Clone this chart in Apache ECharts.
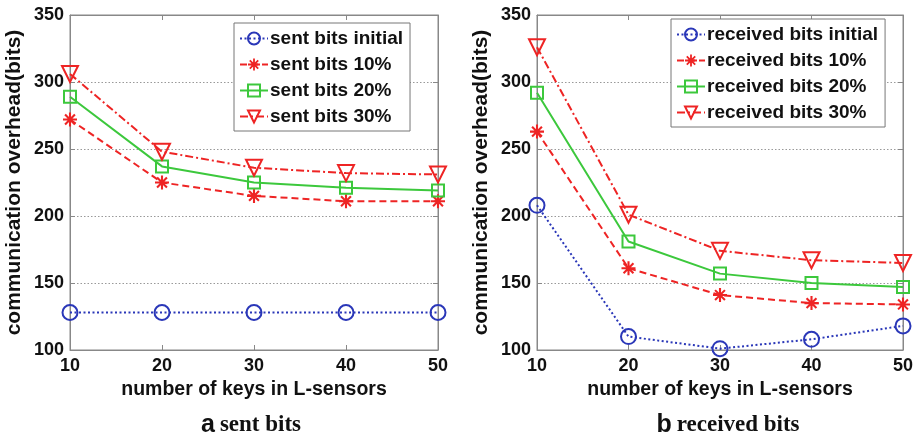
<!DOCTYPE html>
<html>
<head>
<meta charset="utf-8">
<script src="https://cdn.jsdelivr.net/npm/echarts@6/dist/echarts.min.js"></script>
<style>html,body{margin:0;padding:0;background:#fff}#c{width:921px;height:438px}</style>
</head>
<body>
<div id="c"></div>
<script>
var keys = [10, 20, 30, 40, 50];
var sentInitial = [128, 128, 128, 128, 128];
var sent10 = [272, 225, 215, 211, 211];
var sent20 = [289, 237, 225, 221, 219];
var sent30 = [306, 248, 236, 232, 231];
var recvInitial = [208, 110, 101, 108, 118];
var recv10 = [263, 161, 141, 135, 134];
var recv20 = [292, 181, 157, 150, 147];
var recv30 = [326, 201, 174, 167, 165];
var yTicks = [100, 150, 200, 250, 300, 350];
var sentNames = ['sent bits initial', 'sent bits 10%', 'sent bits 20%', 'sent bits 30%'];
var recvNames = ['received bits initial', 'received bits 10%', 'received bits 20%', 'received bits 30%'];

var BLUE = '#2a37b8', RED = '#ee2424', GREEN = '#3cc83c';
var STAR = 'path://M0,8.5 L20,8.5 L20,11.5 L0,11.5 Z M8.5,0 L11.5,0 L11.5,20 L8.5,20 Z M1.9,4 L4,1.9 L18.1,16 L16,18.1 Z M16,1.9 L18.1,4 L4,18.1 L1.9,16 Z';
var TRI = 'path://M0,0 L20,0 L10,17 Z';
var FONT = 'Liberation Sans';

function zip(v) { return keys.map(function (k, i) { return [k, v[i]]; }); }

function mkSeries(names, arrs, xi, yi) {
  var styles = [
    {color: BLUE, type: [2, 2.5], symbol: 'circle', size: 15},
    {color: RED, type: [7, 4], symbol: STAR, size: 14},
    {color: GREEN, type: 'solid', symbol: 'rect', size: 12},
    {color: RED, type: [8, 3, 2, 3], symbol: TRI, size: 16}
  ];
  return arrs.map(function (a, i) {
    var s = styles[i];
    var filled = (i === 1);
    return {
      name: names[i], type: 'line', xAxisIndex: xi, yAxisIndex: yi,
      data: zip(a), symbol: s.symbol, symbolSize: s.size,
      lineStyle: {color: s.color, width: 2, type: s.type},
      itemStyle: filled ? {color: s.color, borderWidth: 0} :
        {color: 'rgba(255,255,255,0)', borderColor: s.color, borderWidth: 2},
      z: 2 + i, animation: false
    };
  });
}

function xAx(gi, pos) {
  var bottom = pos === 'bottom';
  return {
    type: 'value', gridIndex: gi, position: pos, min: 10, max: 50, interval: 10,
    name: bottom ? 'number of keys in L-sensors' : '', nameLocation: 'middle', nameGap: 30,
    nameTextStyle: {fontFamily: FONT, fontWeight: 'bold', fontSize: 19.5, color: '#111'},
    axisLine: {show: true, lineStyle: {color: '#888', width: 1}},
    axisTick: {show: true, inside: true, length: 5, lineStyle: {color: '#888'}},
    axisLabel: {show: bottom, fontFamily: FONT, fontWeight: 'bold', fontSize: 18, color: '#111', margin: 7},
    splitLine: {show: false}
  };
}
function yAx(gi, pos) {
  var left = pos === 'left';
  return {
    type: 'value', gridIndex: gi, position: pos, min: 100, max: 350, interval: 50,
    name: left ? 'communication overhead(bits)' : '', nameLocation: 'middle', nameGap: 45,
    nameTextStyle: {fontFamily: FONT, fontWeight: 'bold', fontSize: 21, color: '#111'},
    axisLine: {show: true, lineStyle: {color: '#888', width: 1}},
    axisTick: {show: true, inside: true, length: 5, lineStyle: {color: '#888'}},
    axisLabel: {show: left, fontFamily: FONT, fontWeight: 'bold', fontSize: 18, color: '#111', margin: 6,
      formatter: function (v) { return yTicks.indexOf(v) >= 0 ? String(v) : ''; }},
    splitLine: {show: left, lineStyle: {color: '#999', type: [1.5, 2], width: 1}}
  };
}

function legend(names, left, top) {
  return {
    data: names, orient: 'vertical', left: left, top: top,
    backgroundColor: '#fff', borderColor: '#777', borderWidth: 1, borderRadius: 0,
    padding: [6, 7, 5, 5], itemGap: 7, itemWidth: 28, itemHeight: 15,
    textStyle: {fontFamily: FONT, fontWeight: 'bold', fontSize: 19, color: '#111', padding: [0, 0, 0, -3]},
    selectedMode: false
  };
}

var capRich = {
  a: {fontFamily: FONT, fontWeight: 'bold', fontSize: 25, color: '#111'},
  b: {fontFamily: 'Liberation Serif', fontSize: 23, color: '#111'}
};

var chart = echarts.init(document.getElementById('c'));
chart.setOption({
  backgroundColor: '#fff',
  animation: false,
  grid: [
    {left: 70, right: 483, top: 15, bottom: 88, show: true, borderColor: '#888', borderWidth: 1},
    {left: 537, right: 18, top: 15, bottom: 88, show: true, borderColor: '#888', borderWidth: 1}
  ],
  xAxis: [xAx(0, 'bottom'), xAx(0, 'top'), xAx(1, 'bottom'), xAx(1, 'top')],
  yAxis: [yAx(0, 'left'), yAx(0, 'right'), yAx(1, 'left'), yAx(1, 'right')],
  legend: [legend(sentNames, 234, 23), legend(recvNames, 671, 19)],
  title: [
    {text: '{a|a} {b|sent bits}', left: 246, top: 408, textAlign: 'center', textStyle: {rich: capRich}},
    {text: '{a|b} {b|received bits}', left: 723, top: 408, textAlign: 'center', textStyle: {rich: capRich}}
  ],
  series: mkSeries(sentNames, [sentInitial, sent10, sent20, sent30], 0, 0)
    .concat(mkSeries(recvNames, [recvInitial, recv10, recv20, recv30], 2, 2))
});
</script>
</body>
</html>
